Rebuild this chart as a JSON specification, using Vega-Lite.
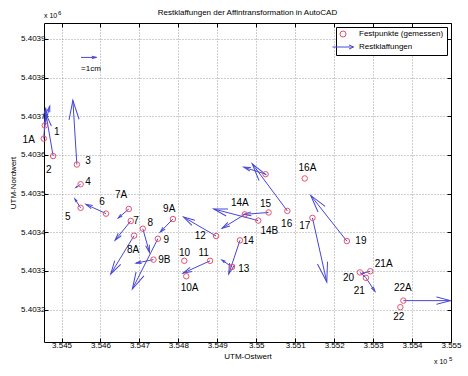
{
  "$schema": "https://vega.github.io/schema/vega-lite/v6.json",
  "width": 407,
  "height": 319,
  "autosize": "none",
  "padding": {"left": 44, "top": 23, "right": 17, "bottom": 34},
  "config": {"font": "Liberation Sans", "view": {"stroke": null}},
  "title": {"text": "Restklaffungen der Affintransformation in AutoCAD", "fontSize": 8, "fontWeight": "normal", "color": "#000", "offset": 6, "dy": 13},
  "datasets": {
    "pts": [
      {"kind": "p", "n": "1A", "x": 3.544544, "y": 5.403642, "tx": 3.544595, "ty": 5.40372, "lx": 3.544157, "ly": 5.403638},
      {"kind": "p", "n": "1", "x": 3.54457, "y": 5.403676, "tx": 3.544698, "ty": 5.403726, "lx": 3.544879, "ly": 5.403658},
      {"kind": "p", "n": "2", "x": 3.544784, "y": 5.403597, "tx": 3.5446, "ty": 5.403706, "lx": 3.544673, "ly": 5.403562},
      {"kind": "p", "n": "3", "x": 3.545394, "y": 5.403575, "tx": 3.545291, "ty": 5.403741, "lx": 3.545678, "ly": 5.403583},
      {"kind": "p", "n": "4", "x": 3.54549, "y": 5.403524, "tx": 3.545369, "ty": 5.403516, "lx": 3.545678, "ly": 5.403529},
      {"kind": "p", "n": "5", "x": 3.54549, "y": 5.403463, "tx": 3.545343, "ty": 5.403486, "lx": 3.545162, "ly": 5.403438},
      {"kind": "p", "n": "6", "x": 3.546142, "y": 5.403448, "tx": 3.545626, "ty": 5.403472, "lx": 3.546039, "ly": 5.403477},
      {"kind": "p", "n": "7A", "x": 3.546727, "y": 5.40346, "tx": 3.546459, "ty": 5.403437, "lx": 3.546528, "ly": 5.403495},
      {"kind": "p", "n": "7", "x": 3.546778, "y": 5.403429, "tx": 3.546374, "ty": 5.403379, "lx": 3.546915, "ly": 5.40343},
      {"kind": "p", "n": "8A", "x": 3.546863, "y": 5.403391, "tx": 3.546263, "ty": 5.403292, "lx": 3.546837, "ly": 5.403353},
      {"kind": "p", "n": "8", "x": 3.547087, "y": 5.403409, "tx": 3.547257, "ty": 5.403348, "lx": 3.547276, "ly": 5.403423},
      {"kind": "p", "n": "9A", "x": 3.54786, "y": 5.403434, "tx": 3.547533, "ty": 5.4034, "lx": 3.547765, "ly": 5.403461},
      {"kind": "p", "n": "9", "x": 3.547474, "y": 5.403383, "tx": 3.546819, "ty": 5.403253, "lx": 3.547688, "ly": 5.403379},
      {"kind": "p", "n": "9B", "x": 3.547361, "y": 5.403329, "tx": 3.546915, "ty": 5.40332, "lx": 3.547641, "ly": 5.403329},
      {"kind": "p", "n": "10", "x": 3.548152, "y": 5.403326, "lx": 3.548159, "ly": 5.403347},
      {"kind": "p", "n": "10A", "x": 3.548203, "y": 5.403286, "lx": 3.548288, "ly": 5.403256},
      {"kind": "p", "n": "11", "x": 3.548814, "y": 5.403326, "tx": 3.548118, "ty": 5.403294, "lx": 3.548649, "ly": 5.403346},
      {"kind": "p", "n": "12", "x": 3.548969, "y": 5.40339, "tx": 3.548134, "ty": 5.403439, "lx": 3.548564, "ly": 5.403389},
      {"kind": "p", "n": "13", "x": 3.549376, "y": 5.40331, "tx": 3.549118, "ty": 5.403328, "lx": 3.54968, "ly": 5.403305},
      {"kind": "p", "n": "14", "x": 3.549582, "y": 5.403379, "tx": 3.549293, "ty": 5.403292, "lx": 3.549793, "ly": 5.403376},
      {"kind": "p", "n": "14A", "x": 3.549706, "y": 5.403446, "tx": 3.549123, "ty": 5.40341, "lx": 3.549577, "ly": 5.403475},
      {"kind": "p", "n": "14B", "x": 3.550051, "y": 5.40343, "tx": 3.548907, "ty": 5.40346, "lx": 3.550334, "ly": 5.403404},
      {"kind": "p", "n": "15", "x": 3.550316, "y": 5.403451, "tx": 3.54968, "ty": 5.403446, "lx": 3.550239, "ly": 5.403474},
      {"kind": "p", "n": "16", "x": 3.550798, "y": 5.403455, "tx": 3.549896, "ty": 5.403577, "lx": 3.55078, "ly": 5.403422},
      {"kind": "p", "n": "", "x": 3.550239, "y": 5.40355, "tx": 3.54968, "ty": 5.403568},
      {"kind": "p", "n": "16A", "x": 3.551244, "y": 5.403539, "lx": 3.551314, "ly": 5.403566},
      {"kind": "p", "n": "17", "x": 3.551443, "y": 5.403437, "tx": 3.551811, "ty": 5.403271, "lx": 3.551244, "ly": 5.403417},
      {"kind": "p", "n": "19", "x": 3.552326, "y": 5.403377, "tx": 3.551399, "ty": 5.403495, "lx": 3.552687, "ly": 5.403377},
      {"kind": "p", "n": "20", "x": 3.552661, "y": 5.403296, "tx": 3.55279, "ty": 5.403285, "lx": 3.55237, "ly": 5.403282},
      {"kind": "p", "n": "21A", "x": 3.552927, "y": 5.403299, "tx": 3.552713, "ty": 5.403293, "lx": 3.553272, "ly": 5.403318},
      {"kind": "p", "n": "21", "x": 3.552816, "y": 5.403282, "tx": 3.553048, "ty": 5.403247, "lx": 3.552644, "ly": 5.403249},
      {"kind": "p", "n": "22A", "x": 3.553777, "y": 5.403223, "tx": 3.55499, "ty": 5.403223, "lx": 3.553762, "ly": 5.403255},
      {"kind": "p", "n": "22", "x": 3.5537, "y": 5.403206, "lx": 3.553659, "ly": 5.40318},
      {"kind": "s", "n": "=1cm", "x": 3.5455, "y": 5.403852, "tx": 3.545898, "ty": 5.403852, "lx": 3.545757, "ly": 5.403821}
    ]
  },
  "resolve": {"axis": {"x": "independent", "y": "independent"}},
  "layer": [
    {
      "data": {"name": "pts"},
      "transform": [{"filter": "isValid(datum.tx)"}],
      "mark": {"type": "rule", "strokeWidth": 1},
      "encoding": {
        "x": {"field": "x", "type": "quantitative", "scale": {"domain": [3.54455, 3.555], "nice": false, "zero": false},
              "axis": {"orient": "top", "title": null, "labels": false, "grid": false, "values": [3.545, 3.546, 3.547, 3.548, 3.549, 3.55, 3.551, 3.552, 3.553, 3.554, 3.555], "tickSize": -4, "tickColor": "#000", "domainColor": "#000"}},
        "y": {"field": "y", "type": "quantitative", "scale": {"domain": [5.403116, 5.403941], "nice": false, "zero": false},
              "axis": {"orient": "right", "title": null, "labels": false, "grid": false, "values": [5.4032, 5.4033, 5.4034, 5.4035, 5.4036, 5.4037, 5.4038, 5.4039], "tickSize": -4, "tickColor": "#000", "domainColor": "#000"}},
        "x2": {"field": "tx"},
        "y2": {"field": "ty"},
        "stroke": {"datum": "Restklaffungen", "type": "nominal"}
      }
    },
    {
      "data": {"name": "pts"},
      "transform": [
        {"filter": "isValid(datum.tx)"},
        {"calculate": "atan2((datum.tx-datum.x)*38947, (datum.ty-datum.y)*386667)*180/PI", "as": "ang"},
        {"calculate": "4*pow(0.3*sqrt(pow((datum.tx-datum.x)*38947,2)+pow((datum.ty-datum.y)*386667,2)),2)", "as": "sz"}
      ],
      "mark": {"type": "point", "shape": "M-0.26,1L0,0L0.26,1", "filled": false, "strokeWidth": 1, "opacity": 1},
      "encoding": {
        "x": {"field": "tx", "type": "quantitative", "axis": null},
        "y": {"field": "ty", "type": "quantitative", "axis": null},
        "angle": {"field": "ang", "type": "quantitative", "scale": null},
        "size": {"field": "sz", "type": "quantitative", "scale": null},
        "stroke": {"datum": "Restklaffungen", "type": "nominal"}
      }
    },
    {
      "data": {"name": "pts"},
      "transform": [{"filter": "datum.kind === 'p'"}],
      "mark": {"type": "point", "filled": false, "size": 30, "strokeWidth": 1, "opacity": 1},
      "encoding": {
        "x": {"field": "x", "type": "quantitative",
              "axis": {"orient": "bottom", "title": "UTM-Ostwert", "titleFontSize": 8, "titleFontWeight": "normal", "titleColor": "#000", "titlePadding": 3,
                       "values": [3.545, 3.546, 3.547, 3.548, 3.549, 3.55, 3.551, 3.552, 3.553, 3.554, 3.555], "format": ".3~f",
                       "labelFontSize": 8, "labelColor": "#000", "labelPadding": 3, "tickSize": -4, "tickColor": "#000", "domainColor": "#000",
                       "grid": true, "gridDash": [1, 2], "gridColor": "#888", "gridOpacity": 0.8, "labelFlush": false}},
        "y": {"field": "y", "type": "quantitative",
              "axis": {"orient": "left", "title": "UTM-Nordwert", "titleFontSize": 8, "titleFontWeight": "normal", "titleColor": "#000", "titlePadding": 3,
                       "values": [5.4032, 5.4033, 5.4034, 5.4035, 5.4036, 5.4037, 5.4038, 5.4039], "format": ".4~f",
                       "labelFontSize": 8, "labelColor": "#000", "labelPadding": 3, "tickSize": -4, "tickColor": "#000", "domainColor": "#000",
                       "grid": true, "gridDash": [1, 2], "gridColor": "#888", "gridOpacity": 0.8, "labelFlush": false}},
        "stroke": {"datum": "Festpunkte (gemessen)", "type": "nominal",
                   "scale": {"domain": ["Festpunkte (gemessen)", "Restklaffungen"], "range": ["#e8506a", "#4646d6"]},
                   "legend": {"orient": "top-right", "offset": 4, "title": null, "strokeColor": "#000", "fillColor": "#fff", "padding": 3,
                              "labelFontSize": 8, "labelColor": "#000", "symbolSize": 36, "symbolStrokeWidth": 1, "symbolOpacity": 1, "labelOffset": 12, "rowPadding": 3, "cornerRadius": 0}},
        "shape": {"datum": "Festpunkte (gemessen)", "type": "nominal",
                  "scale": {"domain": ["Festpunkte (gemessen)", "Restklaffungen"], "range": ["circle", "M-3.5,0L3.5,0M2,-0.7L3.5,0L2,0.7"]},
                  "legend": {"orient": "top-right", "offset": 4, "title": null, "strokeColor": "#000", "fillColor": "#fff", "padding": 3,
                             "labelFontSize": 8, "labelColor": "#000", "symbolSize": 36, "symbolStrokeWidth": 1, "symbolOpacity": 1, "labelOffset": 12, "rowPadding": 3, "cornerRadius": 0}}
      }
    },
    {
      "data": {"values": [{}]},
      "mark": {"type": "point", "filled": false, "size": 30, "opacity": 0},
      "encoding": {
        "x": {"datum": 3.55, "type": "quantitative", "axis": null},
        "y": {"datum": 5.4036, "type": "quantitative", "axis": null},
        "stroke": {"datum": "Restklaffungen", "type": "nominal"},
        "shape": {"datum": "Restklaffungen", "type": "nominal"}
      }
    },
    {
      "data": {"name": "pts"},
      "transform": [{"filter": "isValid(datum.lx)"}],
      "mark": {"type": "text", "align": "center", "baseline": "middle", "color": "#000"},
      "encoding": {
        "x": {"field": "lx", "type": "quantitative", "axis": null},
        "y": {"field": "ly", "type": "quantitative", "axis": null},
        "text": {"field": "n"},
        "size": {"condition": {"test": "datum.kind === 's'", "value": 8}, "value": 10}
      }
    },
    {
      "data": {"values": [{}]},
      "mark": {"type": "text", "text": "x 10", "align": "left", "baseline": "middle", "fontSize": 7, "dx": 0, "dy": -7, "color": "#000"},
      "encoding": {"x": {"datum": 3.54455, "type": "quantitative", "axis": null}, "y": {"datum": 5.403941, "type": "quantitative", "axis": null}}
    },
    {
      "data": {"values": [{}]},
      "mark": {"type": "text", "text": "6", "align": "left", "baseline": "middle", "fontSize": 6, "dx": 14, "dy": -10, "color": "#000"},
      "encoding": {"x": {"datum": 3.54455, "type": "quantitative", "axis": null}, "y": {"datum": 5.403941, "type": "quantitative", "axis": null}}
    },
    {
      "data": {"values": [{}]},
      "mark": {"type": "text", "text": "x 10", "align": "left", "baseline": "middle", "fontSize": 7, "dx": -17, "dy": 20, "color": "#000"},
      "encoding": {"x": {"datum": 3.555, "type": "quantitative", "axis": null}, "y": {"datum": 5.403116, "type": "quantitative", "axis": null}}
    },
    {
      "data": {"values": [{}]},
      "mark": {"type": "text", "text": "5", "align": "left", "baseline": "middle", "fontSize": 6, "dx": -2, "dy": 17, "color": "#000"},
      "encoding": {"x": {"datum": 3.555, "type": "quantitative", "axis": null}, "y": {"datum": 5.403116, "type": "quantitative", "axis": null}}
    }
  ]
}
